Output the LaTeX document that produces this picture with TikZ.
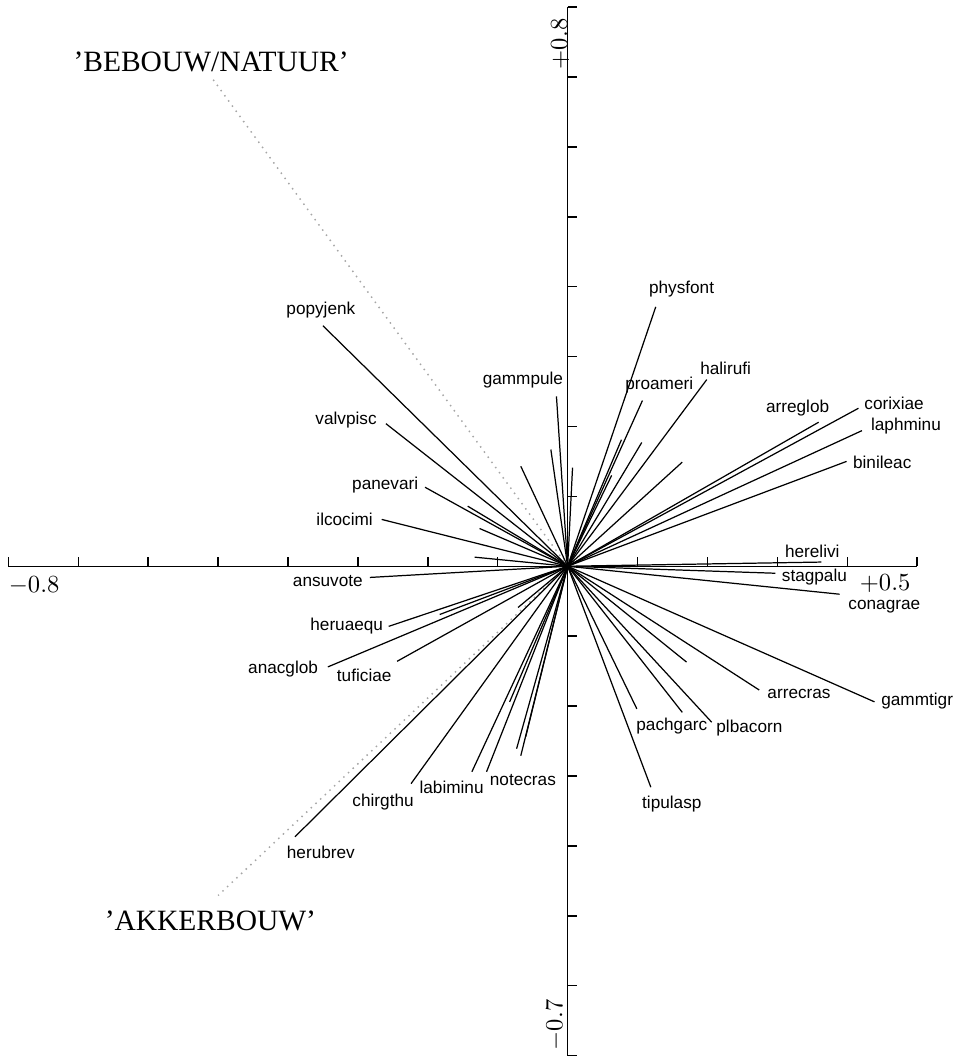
\documentclass[tikz,border=0pt]{standalone}
\usepackage{fontspec}
\newfontfamily\specfont{Liberation Sans}
\newfontfamily\gradfont{Liberation Serif}

\begin{document}
\begin{tikzpicture}[x=10cm, y=10cm,
    spec/.style={font=\specfont\fontsize{7}{8}\selectfont, inner sep=0pt},
    gradient/.style={font=\gradfont\fontsize{12}{14}\selectfont, inner sep=0pt},
    vec/.style={line width=0.5pt},
    axisline/.style={line width=0.6pt}]
        \useasboundingbox (-0.812,-0.702) rectangle (0.555,0.81);
        % Assen
        \coordinate (o) at (0,0);
        \coordinate (xmin) at (-0.8,0);
        \coordinate (xmax) at (0.5,0);
        \coordinate (ymin) at (0,-0.7);
        \coordinate (ymax) at (0,0.8);
        \draw[axisline] (xmin) -- (xmax);
        \draw[axisline] (ymin) -- (ymax);
        \foreach \t in {-0.8,-0.7,...,0.51}
            \draw[axisline] (\t,0) -- ++(0,0.013);
        \foreach \t in {-0.7,-0.6,...,0.81}
            \draw[axisline] (0,\t) -- ++(0.013,0);
        \node[anchor=north west, inner sep=0pt] (lxmin) at (-0.8,-0.014) {$-0.8$};
        \node[anchor=north east, inner sep=0pt] (lxmax) at (0.491,-0.012) {$+0.5$};
        \node[rotate=90, anchor=south east, inner sep=0pt] (lymax) at (0.003,0.784) {$+0.8$};
        \node[rotate=90, anchor=south west, inner sep=0pt] (lymin) at (-0.004,-0.693) {$-0.7$};
        % Gradienten
        \coordinate (bebouw-end) at (-0.507,0.696);
        \coordinate (akker-end) at (-0.500,-0.471);
        \draw[dotted, gray!70, line width=0.6pt] (o) -- (bebouw-end);
        \draw[dotted, gray!70, line width=0.6pt] (o) -- (akker-end);
        \node[gradient] (bebouw) at (-0.510,0.722) {’BEBOUW/NATUUR’};
        \node[gradient] (akker) at (-0.511,-0.507) {’AKKERBOUW’};
        % Soorten, linksboven
        \coordinate (popyjenk-end) at (-0.350,0.344);
        \node[spec] (popyjenk) at (-0.353,0.367) {popyjenk};
        \draw[vec] (o) -- (popyjenk-end);
        \coordinate (gammpule-end) at (-0.016,0.243);
        \node[spec] (gammpule) at (-0.064,0.267) {gammpule};
        \draw[vec] (o) -- (gammpule-end);
        \coordinate (valvpisc-end) at (-0.260,0.204);
        \node[spec] (valvpisc) at (-0.317,0.209) {valvpisc};
        \draw[vec] (o) -- (valvpisc-end);
        \coordinate (panevari-end) at (-0.204,0.113);
        \node[spec] (panevari) at (-0.261,0.116) {panevari};
        \draw[vec] (o) -- (panevari-end);
        \coordinate (ilcocimi-end) at (-0.266,0.067);
        \node[spec] (ilcocimi) at (-0.319,0.067) {ilcocimi};
        \draw[vec] (o) -- (ilcocimi-end);
        % Soorten, rechtsboven
        \coordinate (physfont-end) at (0.126,0.371);
        \node[spec] (physfont) at (0.163,0.396) {physfont};
        \draw[vec] (o) -- (physfont-end);
        \coordinate (proameri-end) at (0.107,0.237);
        \node[spec] (proameri) at (0.131,0.259) {proameri};
        \draw[vec] (o) -- (proameri-end);
        \coordinate (halirufi-end) at (0.199,0.267);
        \node[spec] (halirufi) at (0.226,0.283) {halirufi};
        \draw[vec] (o) -- (halirufi-end);
        \coordinate (arreglob-end) at (0.359,0.206);
        \node[spec] (arreglob) at (0.329,0.227) {arreglob};
        \draw[vec] (o) -- (arreglob-end);
        \coordinate (corixiae-end) at (0.416,0.226);
        \node[spec] (corixiae) at (0.467,0.233) {corixiae};
        \draw[vec] (o) -- (corixiae-end);
        \coordinate (laphminu-end) at (0.421,0.194);
        \node[spec] (laphminu) at (0.484,0.200) {laphminu};
        \draw[vec] (o) -- (laphminu-end);
        \coordinate (binileac-end) at (0.399,0.150);
        \node[spec] (binileac) at (0.450,0.149) {binileac};
        \draw[vec] (o) -- (binileac-end);
        \coordinate (herelivi-end) at (0.363,0.006);
        \node[spec] (herelivi) at (0.350,0.021) {herelivi};
        \draw[vec] (o) -- (herelivi-end);
        % Soorten, rechtsonder
        \coordinate (stagpalu-end) at (0.297,-0.010);
        \node[spec] (stagpalu) at (0.353,-0.016) {stagpalu};
        \draw[vec] (o) -- (stagpalu-end);
        \coordinate (conagrae-end) at (0.389,-0.040);
        \node[spec] (conagrae) at (0.453,-0.058) {conagrae};
        \draw[vec] (o) -- (conagrae-end);
        \coordinate (gammtigr-end) at (0.439,-0.194);
        \node[spec] (gammtigr) at (0.500,-0.193) {gammtigr};
        \draw[vec] (o) -- (gammtigr-end);
        \coordinate (arrecras-end) at (0.274,-0.177);
        \node[spec] (arrecras) at (0.331,-0.183) {arrecras};
        \draw[vec] (o) -- (arrecras-end);
        \coordinate (plbacorn-end) at (0.206,-0.223);
        \node[spec] (plbacorn) at (0.260,-0.231) {plbacorn};
        \draw[vec] (o) -- (plbacorn-end);
        \coordinate (pachgarc-end) at (0.164,-0.209);
        \node[spec] (pachgarc) at (0.149,-0.229) {pachgarc};
        \draw[vec] (o) -- (pachgarc-end);
        \coordinate (tipulasp-end) at (0.119,-0.316);
        \node[spec] (tipulasp) at (0.149,-0.340) {tipulasp};
        \draw[vec] (o) -- (tipulasp-end);
        % Soorten, linksonder
        \coordinate (ansuvote-end) at (-0.283,-0.016);
        \node[spec] (ansuvote) at (-0.343,-0.021) {ansuvote};
        \draw[vec] (o) -- (ansuvote-end);
        \coordinate (heruaequ-end) at (-0.256,-0.086);
        \node[spec] (heruaequ) at (-0.316,-0.086) {heruaequ};
        \draw[vec] (o) -- (heruaequ-end);
        \coordinate (anacglob-end) at (-0.343,-0.144);
        \node[spec] (anacglob) at (-0.407,-0.147) {anacglob};
        \draw[vec] (o) -- (anacglob-end);
        \coordinate (tuficiae-end) at (-0.244,-0.136);
        \node[spec] (tuficiae) at (-0.291,-0.156) {tuficiae};
        \draw[vec] (o) -- (tuficiae-end);
        \coordinate (herubrev-end) at (-0.390,-0.387);
        \node[spec] (herubrev) at (-0.353,-0.409) {herubrev};
        \draw[vec] (o) -- (herubrev-end);
        \coordinate (chirgthu-end) at (-0.224,-0.311);
        \node[spec] (chirgthu) at (-0.264,-0.337) {chirgthu};
        \draw[vec] (o) -- (chirgthu-end);
        \coordinate (labiminu-end) at (-0.137,-0.294);
        \node[spec] (labiminu) at (-0.166,-0.316) {labiminu};
        \draw[vec] (o) -- (labiminu-end);
        \coordinate (notecras-end) at (-0.116,-0.294);
        \node[spec] (notecras) at (-0.064,-0.306) {notecras};
        \draw[vec] (o) -- (notecras-end);
        % Soorten zonder naam
        \coordinate (u1) at (-0.067,0.143);
        \coordinate (u2) at (-0.024,0.167);
        \coordinate (u3) at (0.007,0.141);
        \coordinate (u4) at (-0.143,0.086);
        \coordinate (u5) at (-0.126,0.054);
        \coordinate (u6) at (-0.133,0.013);
        \coordinate (u7) at (0.077,0.181);
        \coordinate (u8) at (0.106,0.177);
        \coordinate (u9) at (0.063,0.130);
        \coordinate (u10) at (0.164,0.149);
        \coordinate (u11) at (0.170,-0.137);
        \coordinate (u12) at (0.099,-0.204);
        \coordinate (u13) at (-0.183,-0.069);
        \coordinate (u14) at (-0.071,-0.059);
        \coordinate (u15) at (-0.083,-0.194);
        \coordinate (u16) at (-0.073,-0.261);
        \coordinate (u17) at (-0.067,-0.271);
        \coordinate (u18) at (-0.060,-0.244);
        \foreach \u in {u1,u2,u3,u4,u5,u6,u7,u8,u9,u10,u11,u12,u13,u14,u15,u16,u17,u18}
            \draw[vec] (o) -- (\u);
    \end{tikzpicture}
\end{document}
